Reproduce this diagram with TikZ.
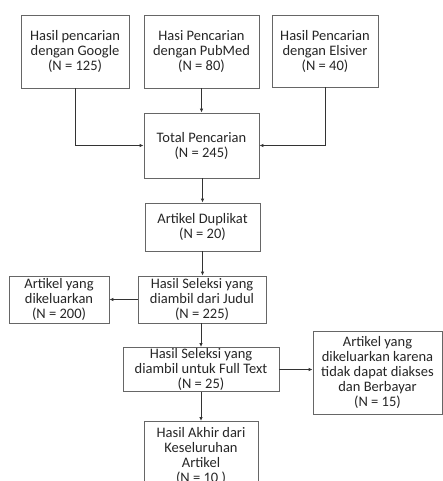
\documentclass[tikz,border=0pt]{standalone}
\usepackage{fontspec}
\setmainfont{Carlito}
\usetikzlibrary{arrows.meta, positioning, calc}

\begin{document}
\begin{tikzpicture}[
    x=1pt, y=-1pt,
    font=\fontsize{14.5}{15}\selectfont,
    >={Latex[length=4pt, width=3.5pt]},
    % Estilos das caixas e das setas
    box/.style={rectangle, draw=black!60, line width=0.8pt, fill=white, text=black!85, align=center, inner sep=1pt},
    flow/.style={->, draw=black!80, line width=1pt}
]

    \useasboundingbox (0,0) rectangle (442,481);

    % ================= 1. FONTES DE BUSCA =================
    \node[box, minimum width=108pt, minimum height=73pt] (google) at (75, 51.5) {Hasil pencarian\\dengan Google\\(N = 125)};
    \node[box, minimum width=115pt, minimum height=73pt] (pubmed) at (201.5, 51.5) {Hasi Pencarian\\dengan PubMed\\(N = 80)};
    \node[box, minimum width=106pt, minimum height=72pt] (elsiver) at (325, 51) {Hasil Pencarian\\dengan Elsiver\\(N = 40)};

    % ================= 2. TOTAL E DUPLICADOS =================
    \node[box, minimum width=115pt, minimum height=65pt] (total) at (201.5, 145.5) {Total Pencarian\\(N = 245)};
    \node[box, minimum width=115pt, minimum height=48pt] (duplikat) at (202.5, 227) {Artikel Duplikat\\(N = 20)};

    % ================= 3. SELEÇÃO =================
    \node[box, minimum width=128pt, minimum height=47pt] (judul) at (202, 299.5) {Hasil Seleksi yang\\diambil dari Judul\\(N = 225)};
    \node[box, minimum width=100pt, minimum height=47pt] (keluar) at (59, 299.5) {Artikel yang\\dikeluarkan\\(N = 200)};
    \node[box, minimum width=156pt, minimum height=43pt] (fulltext) at (201, 369.5) {Hasil Seleksi yang\\diambil untuk Full Text\\(N = 25)};
    \node[box, minimum width=129pt, minimum height=83pt] (akses) at (377.5, 372.5) {Artikel yang\\dikeluarkan karena\\tidak dapat diakses\\dan Berbayar\\(N = 15)};

    % ================= 4. RESULTADO FINAL =================
    \node[box, minimum width=114pt, minimum height=70pt, anchor=north] (akhir) at (201, 421) {Hasil Akhir dari\\Keseluruhan\\Artikel\\(N = 10 )};

    % ================= LIGAÇÕES =================
    \draw[flow] (google.south) |- (total.west);
    \draw[flow] (pubmed.south) -- (total.north);
    \draw[flow] (elsiver.south) |- (total.east);
    \draw[flow] (total.south) -- (duplikat.south |- total.south) -- (duplikat.north);
    \draw[flow] (duplikat.south) -- (duplikat.south |- judul.north);
    \draw[flow] (judul.west) -- (keluar.east);
    \draw[flow] (fulltext.north |- judul.south) -- (fulltext.north);
    \draw[flow] (fulltext.east) -- (akses.west |- fulltext.east);
    \draw[flow] (fulltext.south) -- (akhir.north);

\end{tikzpicture}
\end{document}
